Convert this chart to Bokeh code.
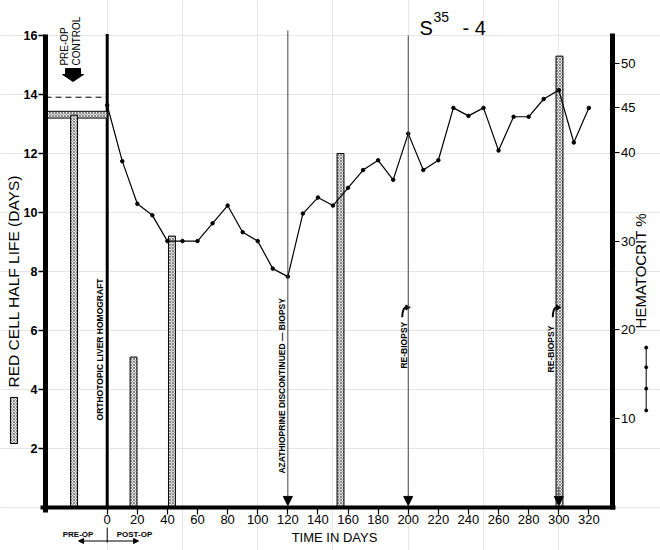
import math
from bokeh.plotting import figure
from bokeh.models import Range1d, LinearAxis, FixedTicker, Arrow, NormalHead
from bokeh.core.properties import value
from bokeh.embed import file_html
from bokeh.resources import INLINE

# ---------------- data ----------------
hct_days = [0, 10, 20, 30, 40, 50, 60, 70, 80, 90, 100, 110, 120, 130, 140, 150, 160,
            170, 180, 190, 200, 210, 220, 230, 240, 250, 260, 270, 280, 290, 300, 310, 320]
hct_vals = [45.3, 39.0, 34.2, 32.9, 30.0, 30.0, 30.0, 32.0, 34.0, 31.0, 30.0, 26.9, 26.0,
            33.1, 34.9, 34.0, 36.0, 38.0, 39.1, 36.9, 42.1, 38.0, 39.1, 45.0, 44.1, 45.0,
            40.2, 44.0, 44.0, 46.0, 47.0, 41.1, 45.0]
bar_days = [-22.0, 17.5, 43.0, 155.0, 300.5]
bar_halflife = [13.3, 5.1, 9.2, 12.0, 15.3]
preop_band = [13.2, 13.43]          # pre-op control red cell half life band
preop_hct = 46.2                    # pre-op control hematocrit (dashed)
event_days = [120, 200, 300]
rebiopsy_days = [200, 300]
left_ticks = [2, 4, 6, 8, 10, 12, 14, 16]
right_ticks = [10, 20, 30, 40, 45, 50]
bottom_ticks = list(range(0, 340, 20))

# ---------------- geometry ----------------
X0, X1 = -70.9, 367.6
Y0, Y1 = -1.458, 17.186
K = 29.5 / 8.88          # hematocrit units per half-life unit
PXX = 1.505              # px per day
PXY = 29.5               # px per half-life day
FONT = "Liberation Sans"
AX_L, AX_R = -41.0, 336.0
BW = 4.6

p = figure(width=660, height=550, x_range=Range1d(X0, X1), y_range=Range1d(Y0, Y1),
           x_axis_location=None, y_axis_location=None, min_border=0,
           toolbar_location=None, output_backend="svg")
p.extra_y_ranges = {"hct": Range1d(Y0 * K, Y1 * K)}
p.outline_line_color = None
p.background_fill_color = "white"

# ---------------- axes ----------------
ly = LinearAxis(fixed_location=AX_L, bounds=(-0.17, 16.03), ticker=FixedTicker(ticks=left_ticks))
ly.axis_line_width = 5
ly.major_tick_out = 7
ly.major_tick_in = 0
ly.major_tick_line_width = 1.5
ly.minor_tick_line_color = None
ly.major_label_standoff = 1
ly.major_label_text_font = FONT
ly.major_label_text_font_size = "12.5px"
ly.major_label_text_font_style = "bold"
ly.major_label_text_color = "black"
p.add_layout(ly, "left")

ry = LinearAxis(y_range_name="hct", fixed_location=AX_R, bounds=(-0.2, 53.4),
                ticker=FixedTicker(ticks=right_ticks))
ry.axis_line_width = 5
ry.major_tick_out = 7
ry.major_tick_in = 0
ry.major_tick_line_width = 1.2
ry.minor_tick_line_color = None
ry.major_label_standoff = 1
ry.major_label_text_font = FONT
ry.major_label_text_font_size = "13px"
ry.major_label_text_color = "black"
p.add_layout(ry, "right")

bx = LinearAxis(fixed_location=0, bounds=(-44.3, 337.8), ticker=FixedTicker(ticks=bottom_ticks))
bx.axis_line_width = 4
bx.major_tick_out = 7
bx.major_tick_in = 0
bx.major_tick_line_width = 1.2
bx.minor_tick_line_color = None
bx.major_label_standoff = 1
bx.major_label_text_font = FONT
bx.major_label_text_font_size = "13px"
bx.major_label_text_color = "black"
p.add_layout(bx, "below")

HATCH = dict(fill_color="#e9e9e9", hatch_pattern="x", hatch_scale=3.0, hatch_weight=0.6,
             hatch_color="#444444", line_color="black", line_width=1)

# day-0 divider
p.segment(x0=[0], y0=[0], x1=[0], y1=[16.05], line_color="black", line_width=3)

# pre-op control dashed hematocrit line
p.segment(x0=[AX_L], y0=[preop_hct], x1=[0], y1=[preop_hct], y_range_name="hct",
          line_color="black", line_width=1, line_dash="6 4")

# pre-op half-life band and bars
p.quad(left=[AX_L], right=[0], bottom=[preop_band[0]], top=[preop_band[1]], **HATCH)
p.vbar(x=bar_days, width=BW, top=bar_halflife, bottom=0, **HATCH)

# events: vertical lines with arrowheads
tops = [16.17, 16.0, 0.7]
for d, t in zip(event_days, tops):
    p.add_layout(Arrow(end=NormalHead(size=9, fill_color="black", line_color="black", line_width=1),
                       x_start=d, y_start=t, x_end=d, y_end=0.07,
                       line_color="#444444", line_width=1))

# hematocrit line
p.line(hct_days, hct_vals, y_range_name="hct", line_color="black", line_width=1.2)
p.scatter(hct_days, hct_vals, y_range_name="hct", size=3.5, color="black")

# ---------------- texts ----------------
def vtext(x, y, s, size, style="normal", align="left"):
    p.text(x=[x], y=[y], text=[s], angle=math.pi / 2, text_align=align, text_baseline="middle",
           text_font=value(FONT), text_font_size=size, text_font_style=style, text_color="black")

def htext(x, y, s, size, style="normal", align="left", baseline="alphabetic"):
    p.text(x=[x], y=[y], text=[s], text_align=align, text_baseline=baseline,
           text_font=value(FONT), text_font_size=size, text_font_style=style, text_color="black")

vtext(-4.5, 2.95, "ORTHOTOPIC LIVER HOMOGRAFT", "8.5px", "bold")
vtext(116.3, 1.15, "AZATHIOPRINE DISCONTINUED \u2014 BIOPSY", "8.5px", "bold")
vtext(197.1, 4.71, "RE-BIOPSY", "8.5px", "bold")
vtext(294.9, 4.58, "RE-BIOPSY", "8.5px", "bold")
vtext(-28.4, 14.98, "PRE-OP", "10px")
vtext(-20.4, 14.98, "CONTROL", "10px")

# curved arrows for re-biopsy
for d in rebiopsy_days:
    p.quadratic(x0=[d - 4.0], y0=[6.45], x1=[d - 0.8], y1=[6.78], cx=[d - 3.8], cy=[6.82],
                line_color="black", line_width=2)
    p.scatter([d - 0.6], [6.78], marker="triangle", angle=-math.pi / 2, size=5, color="black")

# block arrow under PRE-OP CONTROL
ax, ay = -22.7, 14.88
sw, hw = 7.5 / PXX, 10.5 / PXX
s1, s2 = 6 / PXY, 13 / PXY
p.patch(x=[ax - sw, ax + sw, ax + sw, ax + hw, ax, ax - hw, ax - sw],
        y=[ay, ay, ay - s1, ay - s1, ay - s2, ay - s1, ay - s1],
        fill_color="black", line_color="black")

# title S^35 - 4
htext(207.5, 16.26, "S", "20px")
htext(216.8, 16.61, "35", "14px")
htext(236.0, 16.26, "- 4", "20px")

# axis titles
vtext(-62.1, 4.07, "RED CELL HALF LIFE  (DAYS)", "15.5px")
p.quad(left=[-64.3], right=[-59.6], bottom=[2.17], top=[3.73], **HATCH)

vtext(354.0, 6.07, "HEMATOCRIT %", "15px")
leg_y = [5.42, 4.75, 4.03, 3.29]
p.line([358.1] * 4, leg_y, line_color="black", line_width=1)
p.scatter([358.1] * 4, leg_y, size=3, color="black")

htext(151.0, -1.03, "TIME IN DAYS", "13px", align="center", baseline="middle")

# PRE-OP / POST-OP
htext(-19.4, -0.915, "PRE-OP", "8px", "bold", align="center", baseline="middle")
htext(18.1, -0.915, "POST-OP", "8px", "bold", align="center", baseline="middle")
p.segment(x0=[0], y0=[-0.68], x1=[0], y1=[-1.19], line_color="black", line_width=1)
for xe in (-19.0, 20.8):
    p.add_layout(Arrow(end=NormalHead(size=5, fill_color="black", line_color="black"),
                       x_start=0, y_start=-1.136, x_end=xe, y_end=-1.136,
                       line_color="black", line_width=1))

open("out.html", "w").write(file_html(p, INLINE))
